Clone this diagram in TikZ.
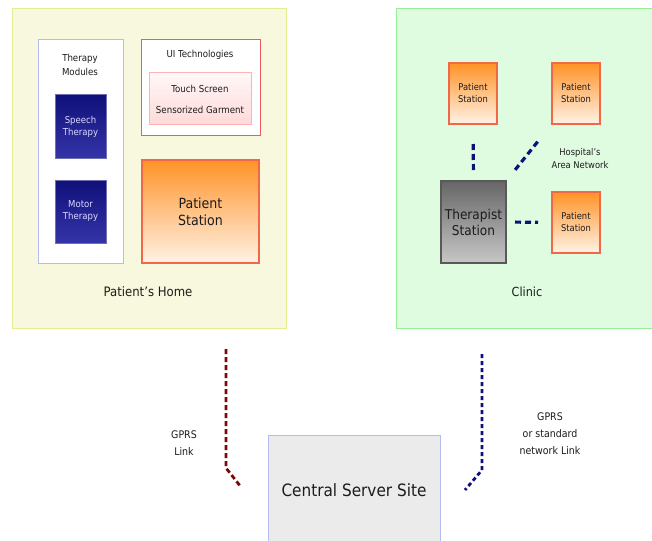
\documentclass[tikz,border=0pt]{standalone}
\usepackage{fontspec}
\setmainfont{DejaVu Sans Condensed}
\usetikzlibrary{positioning}

\definecolor{homefill}{HTML}{F8F8DE}
\definecolor{homeline}{HTML}{E6EC92}
\definecolor{clinicfill}{HTML}{E0FCE0}
\definecolor{clinicline}{HTML}{96EE96}
\definecolor{modline}{HTML}{B4BCF2}
\definecolor{uiline}{HTML}{EE5C5C}
\definecolor{stationline}{HTML}{F06848}
\definecolor{netblue}{HTML}{10107A}
\definecolor{modlow}{HTML}{3434A8}
\definecolor{linkred}{HTML}{7A0A0A}
\definecolor{textgrey}{HTML}{1C1C1C}

\tikzset{
  area/.style={draw, line width=1pt, rectangle, inner sep=0pt},
  module/.style={draw=netblue!60, line width=1pt, top color=netblue, bottom color=modlow,
    text=blue!15, minimum width=51pt, minimum height=63pt, font=\fontsize{9.5}{12}\selectfont, align=center},
  station/.style={draw=stationline, line width=2pt, top color=orange!85, bottom color=orange!10,
    minimum width=48pt, minimum height=61pt, font=\fontsize{9.3}{12}\selectfont, align=center},
  label/.style={text=textgrey, align=center, font=\fontsize{9.6}{12}\selectfont},
  lan/.style={netblue, line width=3.2pt, dash pattern=on 6pt off 4pt},
  wan/.style={line width=2.8pt, dash pattern=on 5pt off 3pt}
}

\begin{document}
\begin{tikzpicture}[x=1pt, y=-1pt, text=textgrey]
  \clip (0,0) rectangle (652,540);
  \fill[white] (0,0) rectangle (652,540);

  % the two sites
  \node[area, draw=homeline, fill=homefill, minimum width=274pt, minimum height=319pt] (home) at (149,168.5) {};
  \node[area, draw=clinicline, fill=clinicfill, minimum width=266pt, minimum height=319pt] (clinic) at (529,168.5) {};
  \node[font=\fontsize{13}{15}\selectfont] (homelbl) at (148,292) {Patient's Home};
  \node[font=\fontsize{12.5}{15}\selectfont] (cliniclbl) at (527,292) {Clinic};

  % patient's home
  \node[area, draw=modline, fill=white, minimum width=85pt, minimum height=223pt] (modules) at (80.5,151.5) {};
  \node[label, font=\fontsize{9.6}{14}\selectfont] (modlbl) at (80,65) {Therapy\\Modules};
  \node[module] (speech) at (80.5,126.5) {Speech\\Therapy};
  \node[module] (motor) at (80.5,211.5) {Motor\\Therapy};

  \node[area, draw=uiline, fill=white, minimum width=119pt, minimum height=96pt] (ui) at (200.5,88) {};
  \node[label] (uilbl) at (200,55) {UI Technologies};
  \node[area, draw=red!30, top color=red!3, bottom color=red!15, minimum width=102pt, minimum height=52pt] (input) at (200,99) {};
  \node[label] (touch) at (200,89) {Touch Screen};
  \node[label] (garment) at (200,110) {Sensorized Garment};

  \node[station, line width=2.5pt, minimum width=117pt, minimum height=103pt,
    font=\fontsize{14}{17}\selectfont] (homeps) at (200.5,211.5) {Patient\\Station};

  % clinic
  \node[station] (psA) at (473,93.5) {Patient\\Station};
  \node[station] (psB) at (576,93.5) {Patient\\Station};
  \node[station] (psC) at (576,222.5) {Patient\\Station};
  \node[draw=black!65, line width=2pt, top color=black!60, bottom color=black!22, minimum width=65pt,
    minimum height=82pt, font=\fontsize{13.5}{16}\selectfont, align=center] (therapist) at (473.5,222) {Therapist\\Station};
  \node[label, font=\fontsize{9.3}{13}\selectfont] (hanlbl) at (580,159) {Hospital's\\Area Network};

  \draw[lan, shorten <=10pt, shorten >=17pt] (therapist.north) -- (psA.south);
  \draw[lan, shorten <=13pt, shorten >=21pt] (therapist.north east) -- (psB.south west);
  \draw[lan, shorten <=8pt, shorten >=13pt] (therapist.east) -- (psC.west);

  % central server and links
  \node[area, draw=modline, fill=black!8, minimum width=172pt, minimum height=115pt] (server) at (354,492.5) {};
  \node[font=\fontsize{17}{20}\selectfont] (serverlbl) at (354,490) {Central Server Site};

  \coordinate (redtop) at (226,349);
  \coordinate (redbend) at (226,468);
  \coordinate (redend) at (241,487);
  \draw[wan, linkred] (redtop) -- (redbend) -- (redend);
  \node[label, font=\fontsize{10.5}{17}\selectfont] (gprs) at (184,443) {GPRS\\Link};

  \coordinate (bluetop) at (482,354);
  \coordinate (bluebend) at (482,470);
  \coordinate (blueend) at (465,490);
  \draw[wan, netblue, dash pattern=on 4pt off 3pt] (bluetop) -- (bluebend) -- (blueend);
  \node[label, font=\fontsize{10.5}{17}\selectfont] (network) at (550,434) {GPRS\\or standard\\network Link};
\end{tikzpicture}
\end{document}
